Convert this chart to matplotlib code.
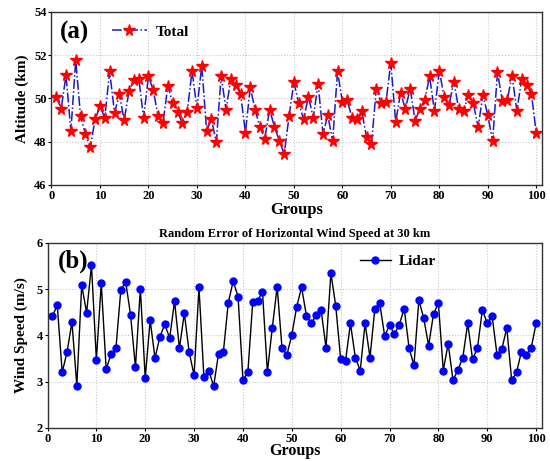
import matplotlib
matplotlib.use("Agg")
import matplotlib.pyplot as plt
import numpy as np

groups = list(range(1, 101))

total_altitude = [
    50.08, 49.52, 51.08, 48.49, 51.77, 49.17, 48.37, 47.75, 49.03, 49.63,
    49.11, 51.26, 49.34, 50.20, 49.00, 50.35, 50.86, 50.92, 49.11, 51.02,
    50.38, 49.17, 48.86, 50.58, 49.77, 49.37, 48.86, 49.38, 51.28, 49.54,
    51.51, 48.52, 49.03, 47.98, 51.06, 49.48, 50.91, 50.62, 50.22, 48.42,
    50.51, 49.48, 48.68, 48.15, 49.48, 48.68, 48.05, 47.42, 49.17, 50.74,
    49.80, 49.03, 50.08, 49.11, 50.69, 48.35, 49.23, 48.03, 51.25, 49.86,
    49.91, 49.11, 49.05, 49.42, 48.20, 47.88, 50.45, 49.80, 49.83, 51.66,
    48.91, 50.26, 49.52, 50.46, 48.98, 49.52, 49.95, 51.02, 49.40, 51.28,
    50.08, 49.69, 50.78, 49.52, 49.42, 50.14, 49.80, 48.68, 50.17, 49.23,
    48.03, 51.23, 49.88, 49.91, 51.06, 49.43, 50.91, 50.62, 50.22, 48.40,
]

lidar_wind = [
    4.42, 4.65, 3.20, 3.64, 4.29, 2.91, 5.09, 4.49, 5.52, 3.47,
    5.13, 3.27, 3.59, 3.72, 4.98, 5.16, 4.44, 3.31, 5.01, 3.07,
    4.33, 3.51, 3.97, 4.24, 3.94, 4.74, 3.72, 4.48, 3.63, 3.14,
    5.04, 3.11, 3.24, 2.90, 3.60, 3.65, 4.71, 5.17, 4.84, 3.04,
    3.20, 4.72, 4.75, 4.94, 3.21, 4.16, 5.05, 3.72, 3.58, 4.01,
    4.62, 5.04, 4.42, 4.26, 4.44, 4.55, 3.73, 5.35, 4.63, 3.48,
    3.45, 4.26, 3.52, 3.24, 4.26, 3.52, 4.58, 4.69, 3.99, 4.22,
    4.03, 4.23, 4.58, 3.73, 3.35, 4.76, 4.37, 3.78, 4.46, 4.70,
    3.24, 3.82, 3.03, 3.25, 3.52, 4.26, 3.48, 3.73, 4.55, 4.26,
    4.42, 3.58, 3.71, 4.16, 3.03, 3.20, 3.65, 3.58, 3.73, 4.26,
]

x_ticks = [0, 10, 20, 30, 40, 50, 60, 70, 80, 90, 100]
top_yticks = [46, 48, 50, 52, 54]
bot_yticks = [2, 3, 4, 5, 6]

plt.rcParams['font.family'] = ['Liberation Serif', 'DejaVu Serif']
plt.rcParams['font.weight'] = 'bold'

fig = plt.figure(figsize=(5.5, 4.61), dpi=100)
ax1 = fig.add_axes([0.0936, 0.5987, 0.892, 0.3753])
ax2 = fig.add_axes([0.0864, 0.072, 0.899, 0.401])

def style(ax):
    ax.grid(True, linestyle=':', color='#c8c8c8', linewidth=0.8)
    ax.set_axisbelow(True)
    for s in ax.spines.values():
        s.set_linewidth(1.0)
        s.set_color('#333333')
    ax.tick_params(labelsize=9, width=0.8, length=2.5, pad=1)
    for lab in ax.get_xticklabels() + ax.get_yticklabels():
        lab.set_fontweight('bold')

# Top panel
ax1.plot(groups, total_altitude, linestyle='-.', color='#1a1ac8', linewidth=1.1,
         marker='*', markersize=8.5, markerfacecolor='red', markeredgecolor='red',
         label='Total')
ax1.set_xlim(0, 101.2)
ax1.set_ylim(46, 54)
ax1.set_xticks(x_ticks)
ax1.set_yticks(top_yticks)
ax1.set_xlabel('Groups', fontsize=12, fontweight='bold', labelpad=0)
ax1.set_ylabel('Altitude (km)', fontsize=11, fontweight='bold', labelpad=4)
style(ax1)
ax1.text(0.018, 0.88, '(a)', transform=ax1.transAxes, fontsize=18,
         fontweight='bold', va='center', ha='left')
ax1.legend(loc='center left', bbox_to_anchor=(0.11, 0.885), frameon=False,
           prop={'weight': 'bold', 'size': 11}, handlelength=2.3,
           handletextpad=0.6, borderaxespad=0)

# Bottom panel
ax2.plot(groups, lidar_wind, linestyle='-', color='black', linewidth=1.0,
         marker='o', markersize=5, markerfacecolor='#0000ff',
         markeredgecolor='#0000ff', label='Lidar')
ax2.set_xlim(0, 101.2)
ax2.set_ylim(2, 6)
ax2.set_xticks(x_ticks)
ax2.set_yticks(bot_yticks)
ax2.set_xlabel('Groups', fontsize=11.5, fontweight='bold', labelpad=-1)
ax2.set_ylabel('Wind Speed (m/s)', fontsize=11, fontweight='bold', labelpad=6)
ax2.set_title('Random Error of Horizontal Wind Speed at 30 km', fontsize=9,
              fontweight='bold', pad=4)
style(ax2)
ax2.text(0.02, 0.9, '(b)', transform=ax2.transAxes, fontsize=18,
         fontweight='bold', va='center', ha='left')
ax2.legend(loc='center left', bbox_to_anchor=(0.62, 0.9), frameon=False,
           prop={'weight': 'bold', 'size': 11}, handlelength=2.0,
           handletextpad=0.5, borderaxespad=0)

fig.savefig('out.png', dpi=100)
